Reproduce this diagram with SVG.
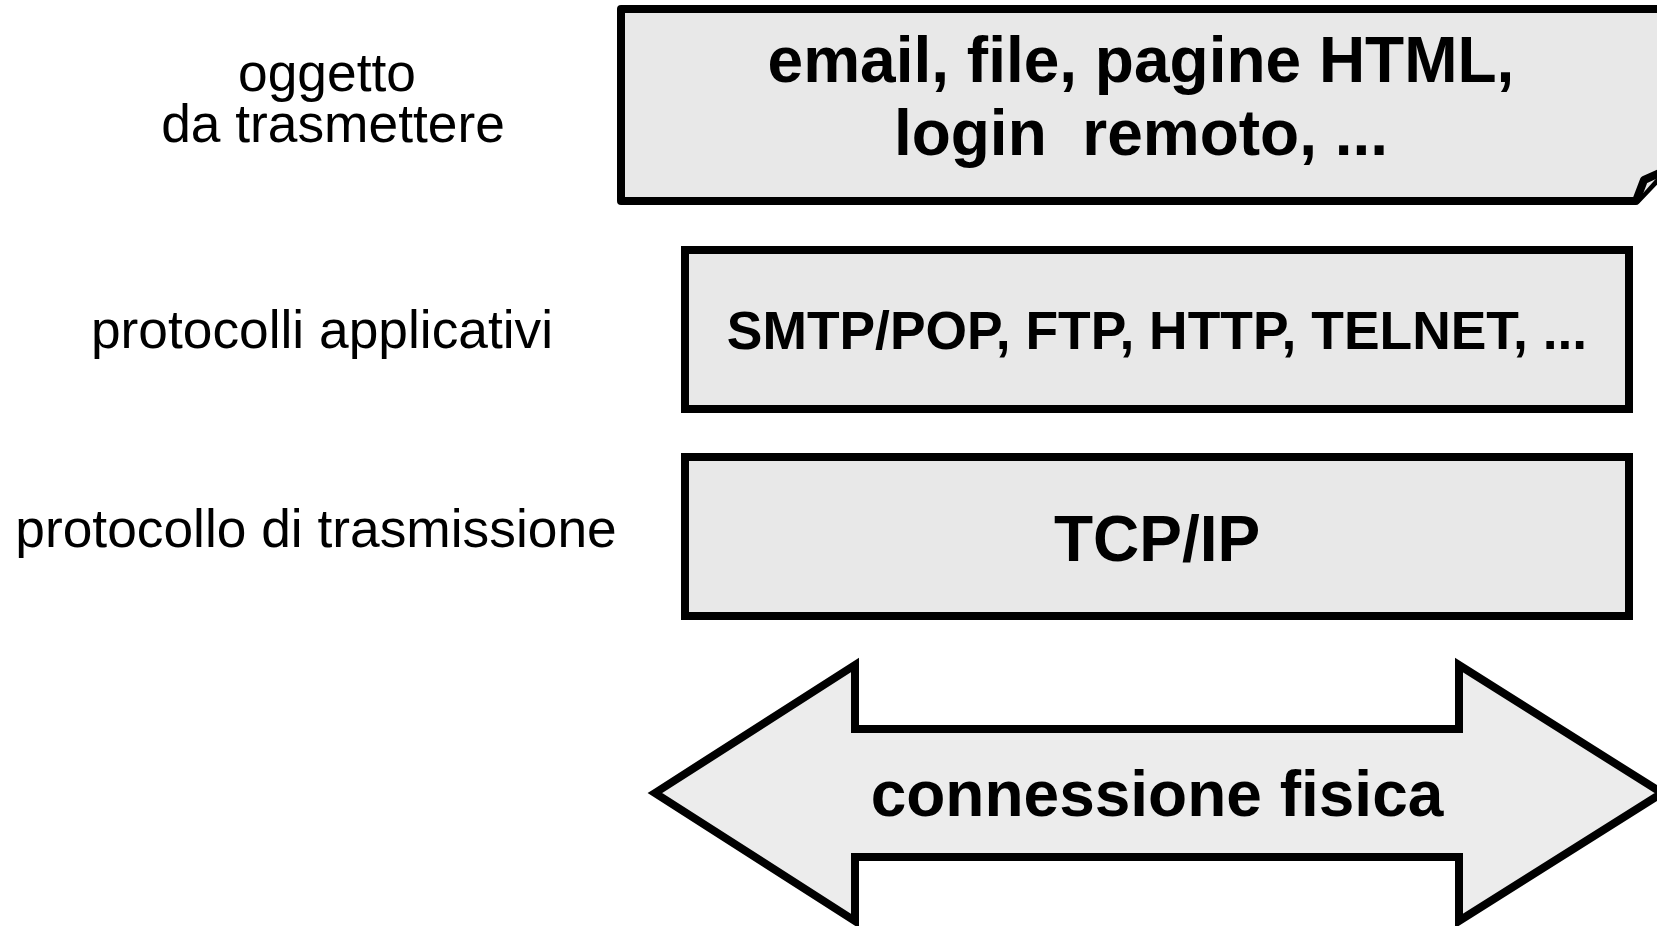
<svg xmlns="http://www.w3.org/2000/svg" width="1657" height="926" viewBox="0 0 1657 926">
<style>
.box{fill:#e8e8e8;stroke:#000;stroke-width:8;stroke-linejoin:round}
.arrow{fill:#ececec;stroke:#000;stroke-width:8;stroke-linejoin:miter}
.lbl{font-family:"Liberation Sans",Arial,sans-serif;font-size:53.3px;fill:#000;text-anchor:middle}
.big{font-family:"Liberation Sans",Arial,sans-serif;font-weight:bold;font-size:64px;fill:#000;text-anchor:middle}
.mid{font-family:"Liberation Sans",Arial,sans-serif;font-weight:bold;font-size:53.4px;fill:#000;text-anchor:middle}
</style>
<rect width="1657" height="926" fill="#fff"/>
<g id="label-oggetto">
<text class="lbl" x="327" y="91">oggetto</text>
<text class="lbl" x="333" y="142">da trasmettere</text>
</g>
<g id="label-applicativi">
<text class="lbl" x="322" y="348">protocolli applicativi</text>
</g>
<g id="label-trasmissione">
<text class="lbl" x="316" y="547">protocollo di trasmissione</text>
</g>
<g id="node-oggetto">
<path class="box" d="M621,9 L1672,9 L1672,163 L1636,201 L621,201 Z"/>
<path d="M1636,201 L1644,180 L1662,172" fill="#e8e8e8" stroke="#000" stroke-width="8" stroke-linejoin="round"/>
<text class="big" xml:space="preserve" x="1141" y="82">email, file, pagine HTML,</text>
<text class="big" xml:space="preserve" x="1141" y="155">login  remoto, ...</text>
</g>
<g id="node-applicativi">
<rect class="box" x="685" y="250" width="944" height="159" style="stroke-linejoin:miter"/>
<text class="mid" x="1157" y="349">SMTP/POP, FTP, HTTP, TELNET, ...</text>
</g>
<g id="node-tcpip">
<rect class="box" x="685" y="457" width="944" height="159" style="stroke-linejoin:miter"/>
<text class="big" x="1157" y="561">TCP/IP</text>
</g>
<g id="connectors">
<polygon class="arrow" points="655,793 855,665 855,729 1459,729 1459,665 1662,793 1459,921 1459,857 855,857 855,921"/>
<text class="big" x="1157" y="816">connessione fisica</text>
</g>
</svg>
